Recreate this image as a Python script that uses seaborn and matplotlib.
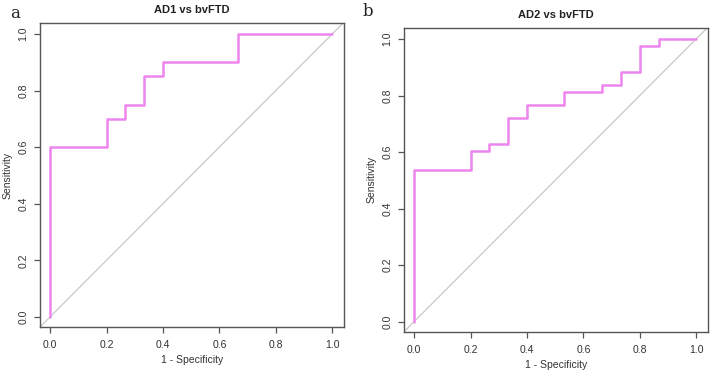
import matplotlib
matplotlib.use("Agg")
import matplotlib.pyplot as plt
import seaborn as sns
import pandas as pd

# Panel a: AD1 vs bvFTD (ROC vertices, in drawing order)
fpr_a = [0.0, 0.0, 0.2, 0.2, 0.267, 0.267, 0.333, 0.333, 0.4, 0.4, 0.667, 0.667, 1.0]
tpr_a = [0.0, 0.6, 0.6, 0.7, 0.7, 0.75, 0.75, 0.85, 0.85, 0.9, 0.9, 1.0, 1.0]

# Panel b: AD2 vs bvFTD
fpr_b = [0.0, 0.0, 0.2, 0.2, 0.267, 0.267, 0.333, 0.333, 0.4, 0.4, 0.533, 0.533,
         0.667, 0.667, 0.733, 0.733, 0.8, 0.8, 0.867, 0.867, 1.0]
tpr_b = [0.0, 0.535, 0.535, 0.605, 0.605, 0.628, 0.628, 0.721, 0.721, 0.767, 0.767,
         0.814, 0.814, 0.837, 0.837, 0.884, 0.884, 0.977, 0.977, 1.0, 1.0]

titles = ["AD1 vs bvFTD", "AD2 vs bvFTD"]
panel_labels = ["a", "b"]
ticks = [0.0, 0.2, 0.4, 0.6, 0.8, 1.0]
tick_labels = ["0.0", "0.2", "0.4", "0.6", "0.8", "1.0"]

sns.set_theme(style="white")
plt.rcParams['font.family'] = ['Liberation Sans', 'DejaVu Sans']

fig = plt.figure(figsize=(7.10, 3.73), dpi=100)
axes_pos = [
    [0.0563, 0.1233, 0.4282, 0.8150],
    [0.5690, 0.1107, 0.4282, 0.8142],
]
data = [(fpr_a, tpr_a), (fpr_b, tpr_b)]
roc_color = "#EE84EE"
spine_color = "#555555"

for i, (pos, (fx, ty)) in enumerate(zip(axes_pos, data)):
    ax = fig.add_axes(pos)
    df = pd.DataFrame({"fpr": fx, "tpr": ty})
    # diagonal reference line
    ax.axline((0, 0), (1, 1), color="#C8C8C8", lw=0.9, zorder=1)
    sns.lineplot(data=df, x="fpr", y="tpr", ax=ax, sort=False, estimator=None,
                 color=roc_color, lw=1.8, zorder=3)
    ax.set_xlim(-0.036, 1.042)
    ax.set_ylim(-0.036, 1.039)
    ax.set_xticks(ticks)
    ax.set_xticklabels(tick_labels, fontsize=7.5, color="#333333")
    ax.set_yticks(ticks)
    ax.set_yticklabels(tick_labels, fontsize=7.5, color="#333333", rotation=90, va="center")
    ax.tick_params(axis="x", direction="out", length=4.5, width=0.9, color=spine_color,
                   pad=5, bottom=True)
    ax.tick_params(axis="y", direction="out", length=4.5, width=0.9, color=spine_color,
                   pad=4, left=True)
    for s in ax.spines.values():
        s.set_color(spine_color)
        s.set_linewidth(1.0)
    ax.set_xlabel("1 - Specificity", fontsize=7.5, color="#333333", labelpad=3.5)
    ax.set_ylabel("Sensitivity", fontsize=7.5, color="#333333", labelpad=4)
    ax.set_title(titles[i], fontsize=8, fontweight="bold", color="#222222", pad=7)
    ax.grid(False)

fig.text(15 / 710, 1 - 13 / 373, panel_labels[0], family="DejaVu Serif", fontsize=12,
         ha="center", va="center", color="#222222")
fig.text(368 / 710, 1 - 11 / 373, panel_labels[1], family="DejaVu Serif", fontsize=12,
         ha="center", va="center", color="#222222")

fig.savefig("out.png", dpi=100)
